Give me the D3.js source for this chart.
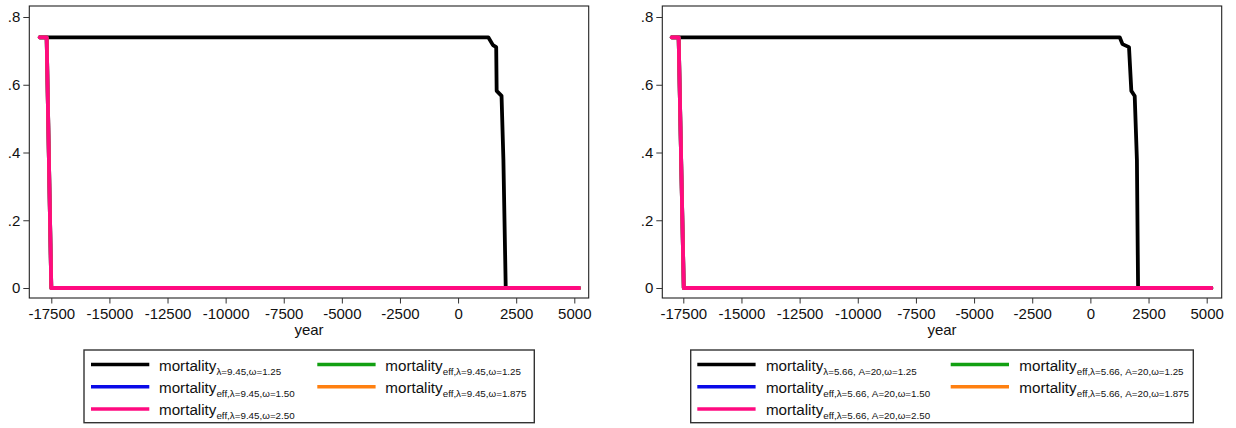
<!DOCTYPE html>
<html>
<head>
<meta charset="utf-8">
<script src="https://cdn.jsdelivr.net/npm/d3@7"></script>
<style>
  body { margin: 0; background: #fff; }
  svg { display: block; font-family: "Liberation Sans", Arial, Helvetica, sans-serif; }
</style>
</head>
<body>
<svg id="chart" width="1236" height="428"></svg>
<script>
// Axis ticks shared by both panels
const xTicks = [-17500, -15000, -12500, -10000, -7500, -5000, -2500, 0, 2500, 5000];
const xTickLabels = ["-17500", "-15000", "-12500", "-10000", "-7500", "-5000", "-2500", "0", "2500", "5000"];
const yTicks = [0, 0.2, 0.4, 0.6, 0.8];
const yTickLabels = ["0", ".2", ".4", ".6", ".8"];
const xAxisTitle = "year";

// Series colours (legend order: black, green, blue, orange, pink)
const seriesColors = ["#000000", "#12a012", "#0a0ae8", "#ff8010", "#ff0a80"];

// Left panel: lambda = 9.45
const leftMortYears = [-18000, 1300, 1500, 1640, 1660, 1870, 1950, 2050, 5200];
const leftMortValues = [0.74, 0.74, 0.717, 0.711, 0.582, 0.567, 0.378, 0, 0];
const leftEffYears = [-18000, -17700, -17500, 5200];
const leftEff125 = [0.74, 0.74, 0, 0];
const leftEff150 = [0.74, 0.74, 0, 0];
const leftEff1875 = [0.74, 0.74, 0, 0];
const leftEff250 = [0.74, 0.74, 0, 0];
const leftSubscripts = [
  "λ=9.45,ω=1.25",
  "eff,λ=9.45,ω=1.25",
  "eff,λ=9.45,ω=1.50",
  "eff,λ=9.45,ω=1.875",
  "eff,λ=9.45,ω=2.50"
];

// Right panel: lambda = 5.66, A = 20
const rightMortYears = [-18000, 1260, 1380, 1660, 1760, 1905, 2000, 2050, 5200];
const rightMortValues = [0.74, 0.74, 0.72, 0.711, 0.582, 0.567, 0.378, 0, 0];
const rightEffYears = [-18000, -17700, -17480, 5200];
const rightEff125 = [0.74, 0.74, 0, 0];
const rightEff150 = [0.74, 0.74, 0, 0];
const rightEff1875 = [0.74, 0.74, 0, 0];
const rightEff250 = [0.74, 0.74, 0, 0];
const rightSubscripts = [
  "λ=5.66, A=20,ω=1.25",
  "eff,λ=5.66, A=20,ω=1.25",
  "eff,λ=5.66, A=20,ω=1.50",
  "eff,λ=5.66, A=20,ω=1.875",
  "eff,λ=5.66, A=20,ω=2.50"
];

const zip = (xs, ys) => xs.map((x, i) => ({ year: x, value: ys[i] }));

const panels = [
  {
    frame: { left: 29.3, right: 588.7 },
    xRange: [51.3, 574.3],
    series: [
      zip(leftMortYears, leftMortValues),
      zip(leftEffYears, leftEff125),
      zip(leftEffYears, leftEff150),
      zip(leftEffYears, leftEff1875),
      zip(leftEffYears, leftEff250)
    ],
    subscripts: leftSubscripts,
    legend: { x: 84, w: 450.3 }
  },
  {
    frame: { left: 662.3, right: 1221.7 },
    xRange: [683.3, 1206.7],
    series: [
      zip(rightMortYears, rightMortValues),
      zip(rightEffYears, rightEff125),
      zip(rightEffYears, rightEff150),
      zip(rightEffYears, rightEff1875),
      zip(rightEffYears, rightEff250)
    ],
    subscripts: rightSubscripts,
    legend: { x: 690.7, w: 502.6 }
  }
];

const svg = d3.select("#chart");
const frameTop = 6, frameBottom = 298;
const y = d3.scaleLinear().domain([0, 0.8]).range([288, 17]);

panels.forEach((p, pi) => {
  const x = d3.scaleLinear().domain([-17500, 5000]).range(p.xRange);
  const g = svg.append("g");

  // plot region frame
  g.append("rect")
    .attr("x", p.frame.left).attr("y", frameTop)
    .attr("width", p.frame.right - p.frame.left)
    .attr("height", frameBottom - frameTop)
    .attr("fill", "#fff").attr("stroke", "#222").attr("stroke-width", 1.1);

  // y axis
  const yAxis = g.append("g")
    .attr("transform", `translate(${p.frame.left},0)`)
    .call(d3.axisLeft(y).tickValues(yTicks)
      .tickFormat((d, i) => yTickLabels[i]).tickSize(6).tickPadding(3));
  yAxis.select(".domain").remove();
  yAxis.selectAll(".tick line").attr("stroke", "#333").attr("stroke-width", 1);
  yAxis.selectAll(".tick text")
    .attr("font-size", 15).attr("fill", "#111")
    .attr("font-family", "Liberation Sans, Arial, sans-serif");

  // x axis
  const xAxis = g.append("g")
    .attr("transform", `translate(0,${frameBottom})`)
    .call(d3.axisBottom(x).tickValues(xTicks)
      .tickFormat((d, i) => xTickLabels[i]).tickSize(5.5).tickPadding(5));
  xAxis.select(".domain").remove();
  xAxis.selectAll(".tick line").attr("stroke", "#333").attr("stroke-width", 1);
  xAxis.selectAll(".tick text")
    .attr("font-size", 15).attr("fill", "#111")
    .attr("font-family", "Liberation Sans, Arial, sans-serif");

  g.append("text")
    .attr("x", (p.frame.left + p.frame.right) / 2)
    .attr("y", 335)
    .attr("text-anchor", "middle")
    .attr("font-size", 15).attr("fill", "#111")
    .text(xAxisTitle);

  // series lines
  const line = d3.line().x(d => x(d.year)).y(d => y(d.value));
  p.series.forEach((s, si) => {
    g.append("path")
      .datum(s)
      .attr("d", line)
      .attr("fill", "none")
      .attr("stroke", seriesColors[si])
      .attr("stroke-width", 3.8)
      .attr("stroke-linejoin", "round")
      .attr("stroke-linecap", "round");
  });

  // legend
  const lg = svg.append("g").attr("transform", `translate(${p.legend.x},350)`);
  lg.append("rect")
    .attr("x", 0).attr("y", 0)
    .attr("width", p.legend.w).attr("height", 72.7)
    .attr("fill", "#fff").attr("stroke", "#333").attr("stroke-width", 1.4);

  const colX = pi === 0 ? [7, 233.3] : [6.6, 260];
  const keyLen = 58.3;
  const textGap = pi === 0 ? 9.7 : 10.3;
  const rowY = [14.5, 36.7, 59];
  // legend entries fill rows first, two columns
  const slots = [[0, 0], [1, 0], [0, 1], [1, 1], [0, 2]];
  slots.forEach(([c, r], si) => {
    const kx = colX[c], ky = rowY[r];
    lg.append("line")
      .attr("x1", kx).attr("x2", kx + keyLen)
      .attr("y1", ky).attr("y2", ky)
      .attr("stroke", seriesColors[si]).attr("stroke-width", 3.5);
    const t = lg.append("text")
      .attr("x", kx + keyLen + textGap)
      .attr("y", ky + 6.4)
      .attr("font-size", 15.2).attr("fill", "#111");
    t.append("tspan").text("mortality");
    t.append("tspan")
      .attr("font-size", 9.8)
      .attr("dy", 4)
      .text(p.subscripts[si]);
  });
});
</script>
</body>
</html>
